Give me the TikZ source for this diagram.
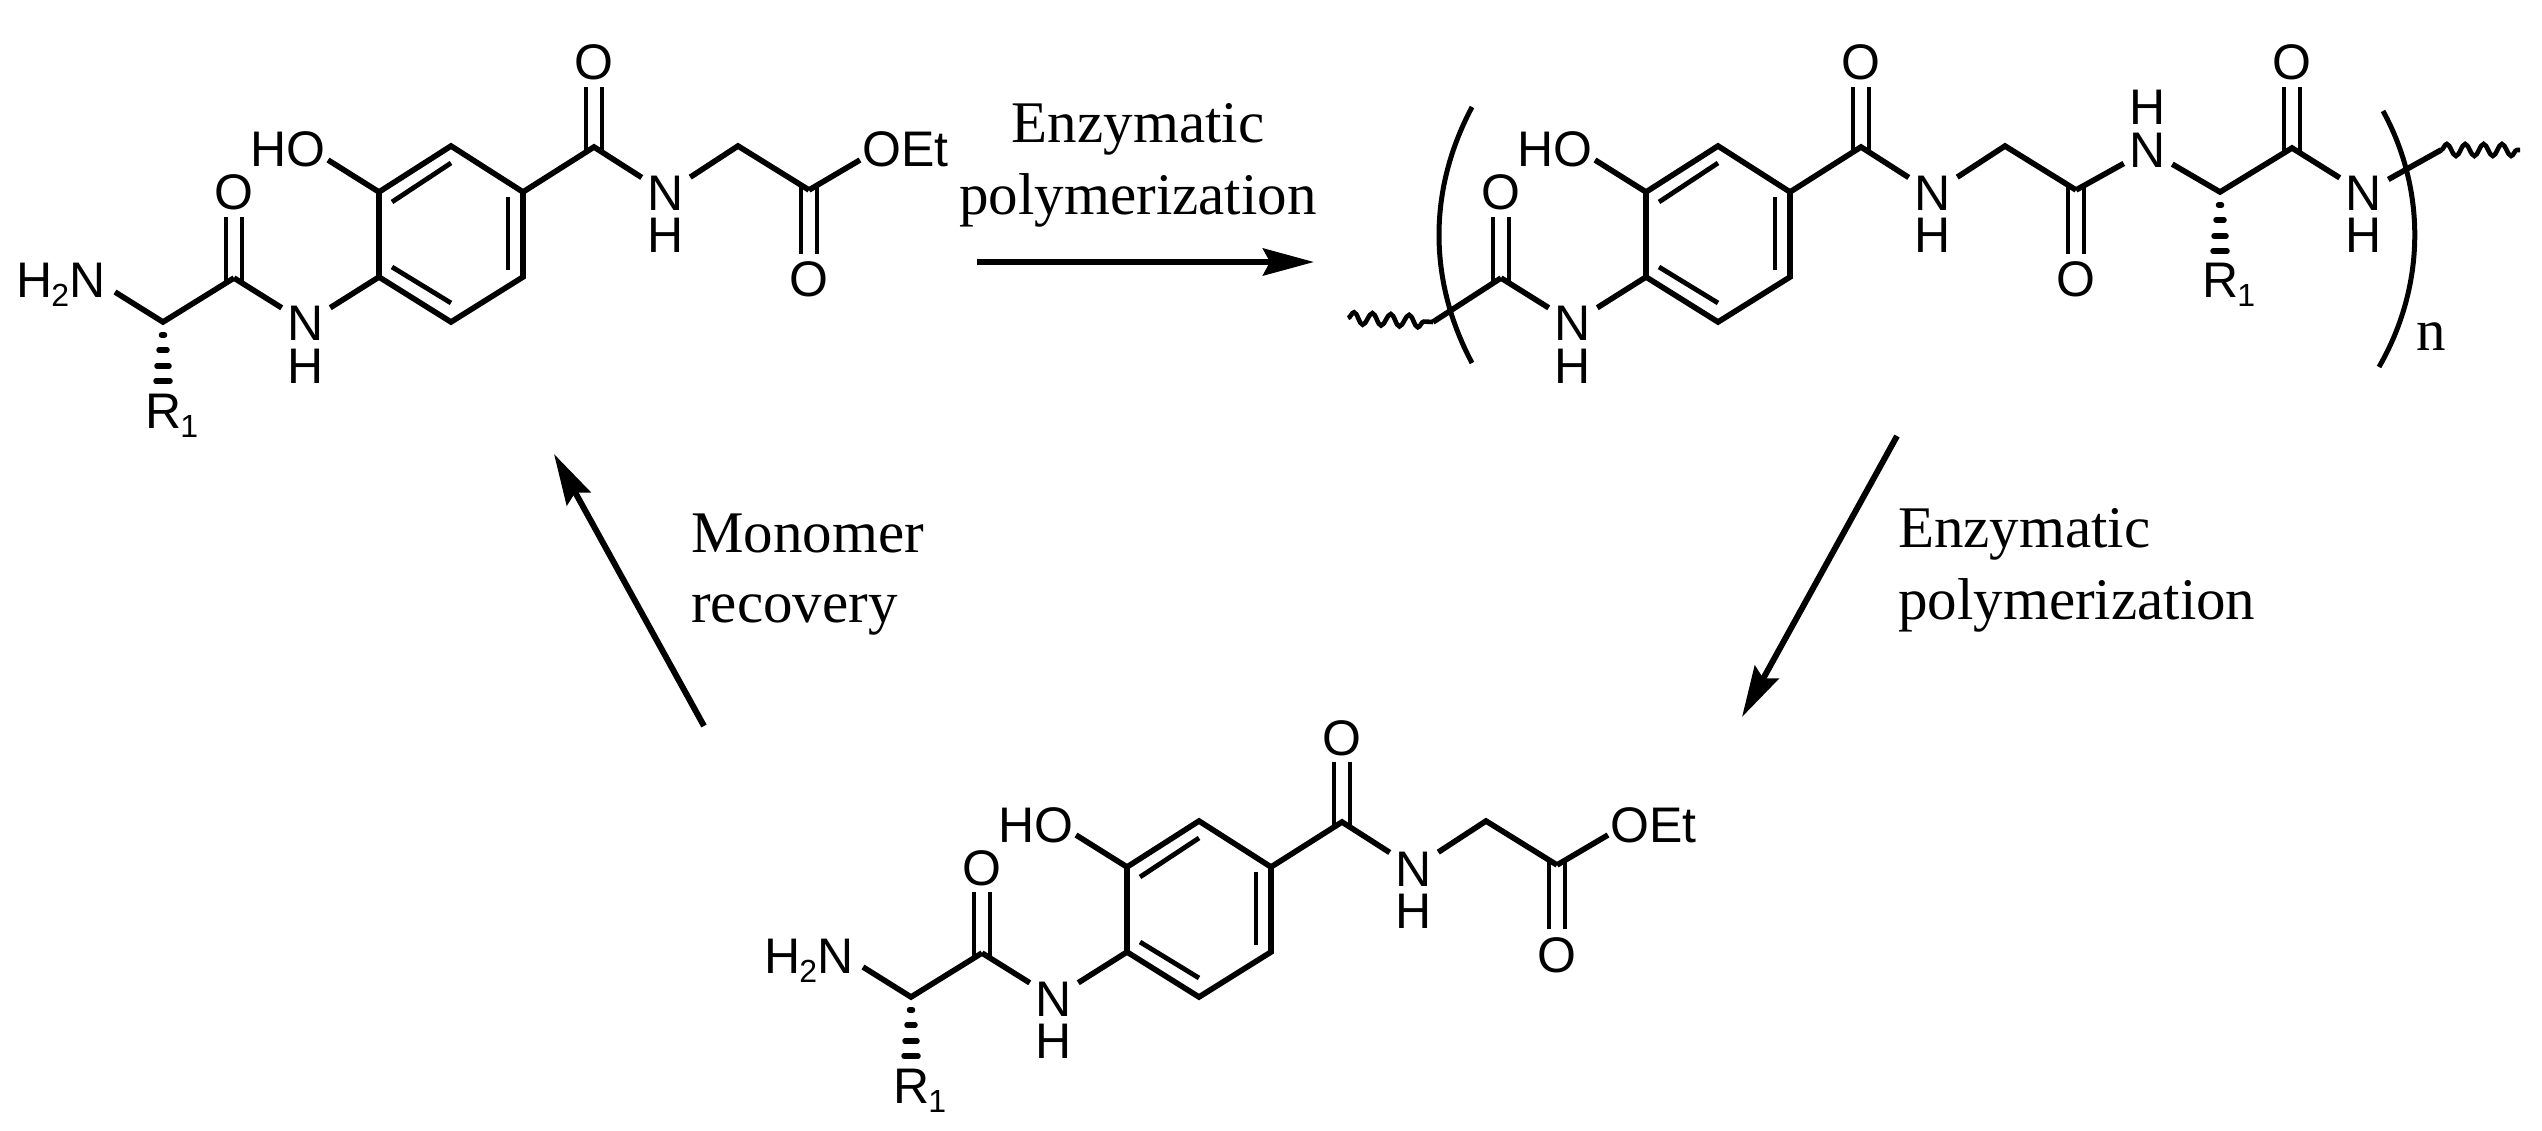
\documentclass[tikz,border=0pt]{standalone}
\usepackage{fontspec}
\setmainfont{Liberation Serif}
\newfontfamily\chemfont{Liberation Sans}
\usetikzlibrary{arrows.meta,decorations.pathmorphing}
\newcommand{\subn}[1]{\kern-1pt\raisebox{-9pt}{\fontsize{32}{32}\selectfont #1}}
\tikzset{
  bond/.style={line width=5.6pt,line join=miter,miter limit=10},
  inner bond/.style={line width=4.8pt},
  atom/.style={font=\chemfont\fontsize{50}{50}\selectfont,inner xsep=6pt,inner ysep=2pt,text height=36pt,text depth=0pt},
  oxy/.style={atom,inner ysep=7pt},
  group/.style={atom,inner sep=0pt},
  caption/.style={font=\fontsize{59}{72}\selectfont,inner sep=0pt},
  hash/.style={line width=5.5pt,line cap=round},
  wave/.style={line width=4.6pt,decorate,decoration={snake,segment length=18.4pt,amplitude=6pt,post length=0pt}},
  react/.style={line width=6pt,-{Stealth[length=51pt,width=27pt,inset=7pt]}},
  paren/.style={line width=5pt}
}
% fragment common to monomer and polymer
\newcommand{\corepart}{
  \coordinate (Ca) at (234,278);
  \coordinate (Ra) at (379,277);
  \coordinate (Rb) at (379,192);
  \coordinate (Rc) at (451,146);
  \coordinate (Rd) at (523,192);
  \coordinate (Re) at (523,277);
  \coordinate (Rf) at (451,322);
  \coordinate (Cb) at (594,147);
  \coordinate (CH) at (738,146);
  \coordinate (Cc) at (809,190);
  \coordinate (HOend) at (328,160);
  \coordinate (ia) at (392,202);
  \coordinate (ib) at (451,163);
  \coordinate (ic) at (508,197);
  \coordinate (id) at (508,270);
  \coordinate (ie) at (392,267);
  \coordinate (if) at (451,303);
  \node[oxy] (Oa) at (234,192) {O};
  \node[atom] (Na) at (306,323) {N};
  \node[atom] (Ha) at (306,365) {H};
  \node[group] (HO) at (288,149) {HO};
  \node[oxy] (Ob) at (594,62) {O};
  \node[atom] (Nb) at (666,193) {N};
  \node[atom] (Hb) at (666,235) {H};
  \node[oxy] (Oc) at (809,279) {O};
  \draw[bond] (Ca) -- (Na);
  \draw[bond] (Na) -- (Ra);
  \draw[bond] (Ra) -- (Rb) -- (Rc) -- (Rd) -- (Re) -- (Rf) -- cycle;
  \draw[inner bond] (ia) -- (ib);
  \draw[inner bond] (ic) -- (id);
  \draw[inner bond] (ie) -- (if);
  \draw[bond] (Rb) -- (HOend);
  \draw[bond] (Rd) -- (Cb) -- (Nb);
  \draw[bond] (Nb) -- (CH) -- (Cc);
  \foreach \s in {-8,8}{
    \draw[inner bond] ([xshift=\s pt,yshift=-5pt]Ca) -- ([xshift=\s pt]Oa.south);
    \draw[inner bond] ([xshift=\s pt,yshift=-5pt]Cb) -- ([xshift=\s pt]Ob.south);
    \draw[inner bond] ([xshift=\s pt,yshift=5pt]Cc) -- ([xshift=\s pt]Oc.north);
  }
}
% hashed bond below a stereo centre
\newcommand{\hashbond}[1]{
  \foreach \d/\w in {13/1.5,28/4,44/6,59/7}{
    \draw[hash] ([shift={(-\w,\d)}]#1) -- ([shift={(\w,\d)}]#1);
  }
}
% end groups of the monomer
\newcommand{\monomerends}{
  \coordinate (Chi) at (163,322);
  \coordinate (Nend) at (115,292);
  \coordinate (Oend) at (860,160);
  \node[group,anchor=west] (NH) at (16,280) {H\subn{2}N};
  \node[group,anchor=west] (OEt) at (862,149) {OEt};
  \node[group,anchor=west] (Ra1) at (145,410) {R\subn{1}};
  \draw[bond] (Nend) -- (Chi) -- (Ca);
  \draw[bond] (Cc) -- (Oend);
  \hashbond{Chi}
}
\begin{document}
\begin{tikzpicture}[x=1pt,y=-1pt]
\useasboundingbox[fill=white] (0,0) rectangle (2542,1131);

\begin{scope}[name prefix=m-]
  \corepart
  \monomerends
\end{scope}

\begin{scope}[shift={(748,675)},name prefix=r-]
  \corepart
  \monomerends
\end{scope}

\begin{scope}[shift={(1267,0)},name prefix=p-]
  \corepart
  \coordinate (Chi) at (953,192);
  \coordinate (Cd) at (1025,148);
  \coordinate (Wl) at (166,322);
  \coordinate (WlS) at (81,318);
  \coordinate (Wr) at (1174,150);
  \coordinate (WrE) at (1253,150);
  \node[atom] (Nc) at (881,150) {N};
  \node[atom] (Hc) at (881,107) {H};
  \node[oxy] (Od) at (1025,62) {O};
  \node[atom] (Nd) at (1097,193) {N};
  \node[atom] (Hd) at (1097,235) {H};
  \node[group,anchor=west] (Rb1) at (935,280) {R\subn{1}};
  \draw[bond] (Cc) -- (Nc);
  \draw[bond] (Nc) -- (Chi) -- (Cd) -- (Nd);
  \draw[bond] (Nd) -- (Wr);
  \foreach \s in {-8,8}{
    \draw[inner bond] ([xshift=\s pt,yshift=-5pt]Cd) -- ([xshift=\s pt]Od.south);
  }
  \hashbond{Chi}
  \draw[bond] (Ca) -- (Wl);
  \draw[wave] (WlS) -- (Wl);
  \draw[wave] (Wr) -- (WrE);
\end{scope}

\draw[paren] (1472,107) .. controls (1428,190) and (1428,280) .. (1472,363);
\draw[paren] (2383,111) .. controls (2426,190) and (2426,285) .. (2379,367);
\node[caption,anchor=base west] (nn) at (2416,350) {n};

\coordinate (a1s) at (977,262);
\coordinate (a1e) at (1314,262);
\coordinate (a2s) at (1897,436);
\coordinate (a2e) at (1742,717);
\coordinate (a3s) at (704,726);
\coordinate (a3e) at (554,454);
\draw[react] (a1s) -- (a1e);
\draw[react] (a2s) -- (a2e);
\draw[react] (a3s) -- (a3e);

\node[caption,align=center] (t1) at (1138,165) {Enzymatic\\polymerization};
\node[caption,align=left,anchor=west] (t2) at (1898,570) {Enzymatic\\polymerization};
\node[caption,align=left,anchor=west,font=\fontsize{59}{70}\selectfont] (t3) at (691,575) {Monomer\\recovery};
\end{tikzpicture}
\end{document}
